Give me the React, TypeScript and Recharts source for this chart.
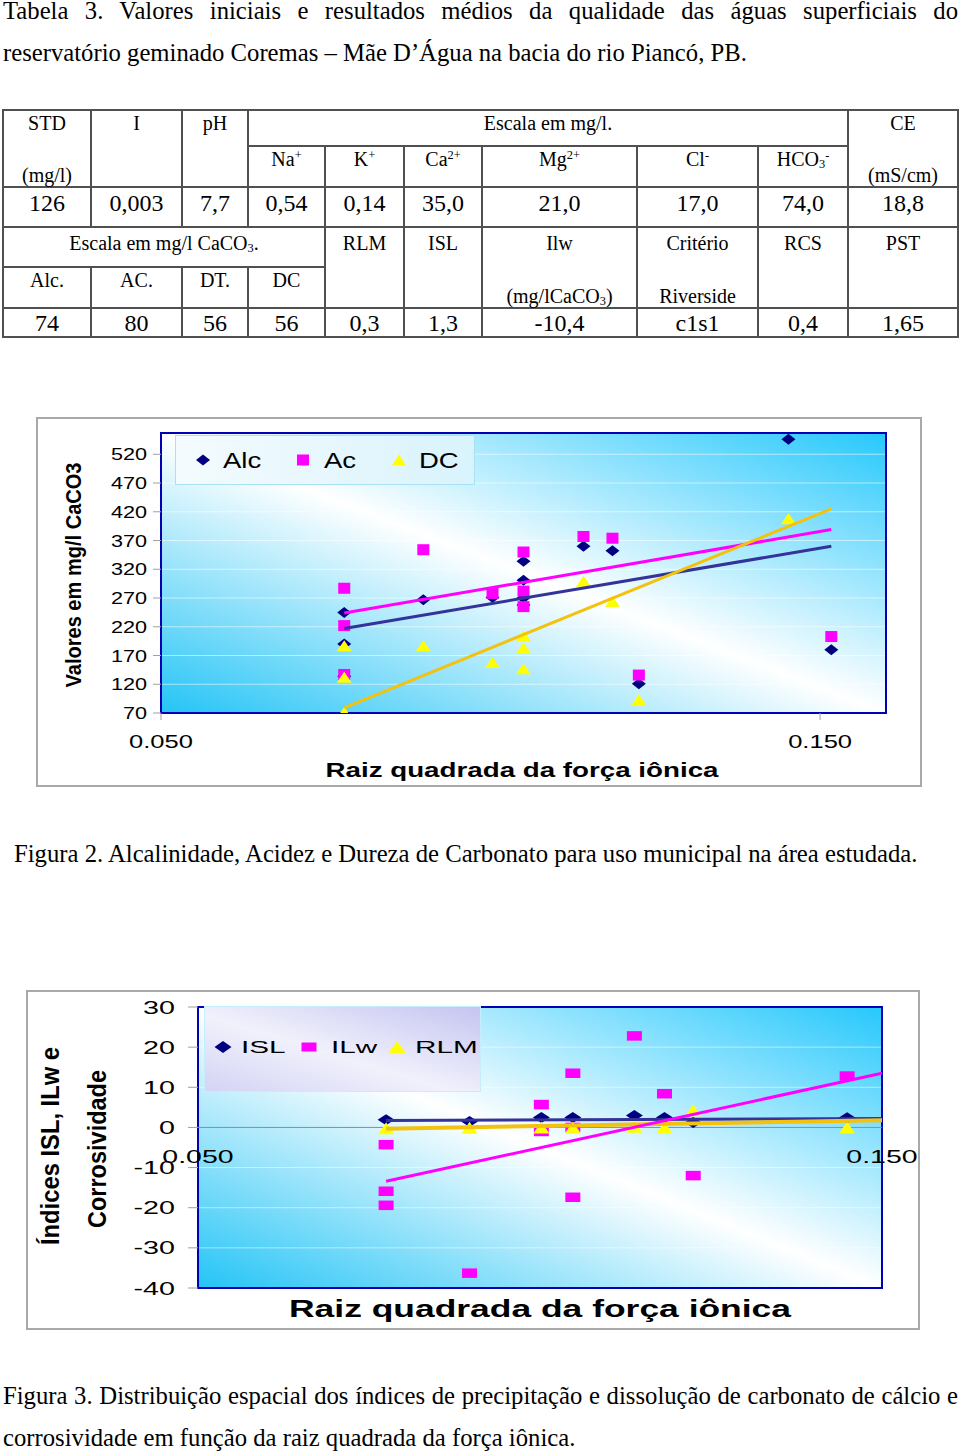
import React from "react";
import {
  CartesianGrid,
  ReferenceArea,
  ReferenceDot,
  ReferenceLine,
  Scatter,
  ScatterChart,
  XAxis,
  YAxis,
} from "recharts";

type Pt = { x: number; y: number };
const toPts = (rows: number[][]): Pt[] => rows.map(([x, y]) => ({ x, y }));

// ---- Figura 2: Alc / Ac / DC (mg/l CaCO3) vs raiz quadrada da força iônica
const alcPoints = toPts([
  [0.0778, 245], [0.0778, 190], [0.0778, 134],
  [0.0898, 267],
  [0.1003, 271],
  [0.105, 334], [0.105, 301], [0.105, 270], [0.105, 258],
  [0.1141, 360],
  [0.1185, 352],
  [0.1225, 121],
  [0.1452, 546],
  [0.1517, 180],
]);
const acPoints = toPts([
  [0.0778, 287], [0.0778, 222], [0.0778, 137],
  [0.0898, 354],
  [0.1003, 278],
  [0.105, 350], [0.105, 282], [0.105, 255],
  [0.1141, 377],
  [0.1185, 374],
  [0.1225, 136],
  [0.1517, 203],
]);
const dcPoints = toPts([
  [0.0778, 187], [0.0778, 132], [0.0778, 71],
  [0.0898, 187],
  [0.1003, 158],
  [0.105, 204], [0.105, 183], [0.105, 147],
  [0.1141, 299],
  [0.1185, 264],
  [0.1225, 93],
  [0.1452, 408],
]);
// trend line end points as drawn in the figure
const alcTrend = toPts([[0.0778, 217], [0.1517, 360]]);
const acTrend = toPts([[0.0778, 244], [0.1517, 389]]);
const dcTrend = toPts([[0.0778, 79], [0.1517, 425]]);
const fig2YTicks = [70, 120, 170, 220, 270, 320, 370, 420, 470, 520];
const fig2XTicks = [0.05, 0.15];

// ---- Figura 3: ISL / ILw / RLM
const islPoints = toPts([
  [0.0775, 1.9], [0.0897, 1.5], [0.1002, 2.5], [0.1048, 2.5],
  [0.1138, 3.0], [0.1182, 2.5], [0.1224, 1.2], [0.1449, 2.4],
]);
const ilwPoints = toPts([
  [0.0775, -4.3], [0.0775, -15.9], [0.0775, -19.4],
  [0.0897, -36.3],
  [0.1002, 5.7], [0.1002, -1.0],
  [0.1048, 13.5], [0.1048, 0.0], [0.1048, -17.4],
  [0.1138, 22.8],
  [0.1182, 8.4],
  [0.1224, -12.0],
  [0.1449, 12.8],
]);
const rlmPoints = toPts([
  [0.0775, -0.2], [0.0897, -0.1], [0.1002, 0.0], [0.1048, 0.0],
  [0.1138, 0.2], [0.1182, 0.0], [0.1224, 4.3], [0.1449, 0.0],
]);
const islTrend = toPts([[0.0775, 1.7], [0.15, 2.2]]);
const ilwTrend = toPts([[0.0775, -13.4], [0.15, 13.5]]);
const rlmTrend = toPts([[0.0775, -0.3], [0.15, 1.8]]);
const fig3YTicks = [-40, -30, -20, -10, 0, 10, 20, 30];
const fig3XLabels = [0.05, 0.15];

// ---- Tabela 3 values
const tableRow1 = ["126", "0,003", "7,7", "0,54", "0,14", "35,0", "21,0", "17,0", "74,0", "18,8"];
const tableRow2 = ["74", "80", "56", "56", "0,3", "1,3", "-10,4", "c1s1", "0,4", "1,65"];

const NAVY = "#000080";
const PINK = "#ff00ff";
const YELLOW = "#ffff00";
const TREND_NAVY = "#333399";
const TREND_GOLD = "#f2c20f";
const SANS = '"Liberation Sans", Arial, sans-serif';

type Kind = "diamond" | "square" | "triangle";

function markerPath(kind: Kind, cx: number, cy: number, w: number, h: number, fill: string) {
  if (kind === "square") {
    return <rect x={cx - w / 2} y={cy - h / 2} width={w} height={h} fill={fill} />;
  }
  if (kind === "diamond") {
    return (
      <polygon
        points={`${cx},${cy - h / 2} ${cx + w / 2},${cy} ${cx},${cy + h / 2} ${cx - w / 2},${cy}`}
        fill={fill}
      />
    );
  }
  return (
    <polygon
      points={`${cx},${cy - h / 2} ${cx + w / 2},${cy + h / 2} ${cx - w / 2},${cy + h / 2}`}
      fill={fill}
    />
  );
}

const marker = (kind: Kind, w: number, h: number, fill: string) => (p: any) => {
  if (p == null || p.cx == null || p.cy == null) return <g />;
  return markerPath(kind, p.cx, p.cy, w, h, fill);
};

const noMarker = () => <g />;

const yTick = (size: number, sx: number) => (p: any) => (
  <text
    transform={`translate(${p.x},${p.y}) scale(${sx},1)`}
    textAnchor="end"
    dominantBaseline="central"
    fontSize={size}
    fontFamily={SANS}
    fill="#000"
  >
    {p.payload.value}
  </text>
);

const xTick1 = (p: any) => (
  <text
    transform={`translate(${p.x},${p.y + 8}) scale(1.38,1)`}
    textAnchor="middle"
    dominantBaseline="central"
    fontSize={18.5}
    fontFamily={SANS}
    fill="#000"
  >
    {Number(p.payload.value).toFixed(3)}
  </text>
);

const xLabel3 = (text: string) => (p: any) => {
  const vb = p.viewBox || {};
  const cx = (vb.x || 0) + (vb.width || 0) / 2;
  const cy = (vb.y || 0) + (vb.height || 0) / 2;
  return (
    <text
      transform={`translate(${cx},${cy + 29}) scale(1.5,1)`}
      textAnchor="middle"
      dominantBaseline="central"
      fontSize={19}
      fontFamily={SANS}
      fill="#000"
    >
      {text}
    </text>
  );
};

type LegendItem = { kind: Kind; color: string; label: string; mx: number; tx: number };
const fig2Legend: LegendItem[] = [
  { kind: "diamond", color: NAVY, label: "Alc", mx: 28, tx: 48 },
  { kind: "square", color: PINK, label: "Ac", mx: 128, tx: 149 },
  { kind: "triangle", color: YELLOW, label: "DC", mx: 224, tx: 244 },
];
const fig3Legend: LegendItem[] = [
  { kind: "diamond", color: NAVY, label: "ISL", mx: 19, tx: 37 },
  { kind: "square", color: PINK, label: "ILw", mx: 105, tx: 127 },
  { kind: "triangle", color: YELLOW, label: "RLM", mx: 193, tx: 211 },
];

function LegendBox1() {
  return (
    <svg width={300} height={50} style={{ display: "block" }}>
      <defs>
        <linearGradient id="lg1" x1="0" y1="0" x2="1" y2="0">
          <stop offset="0" stopColor="#f4fbfe" />
          <stop offset="1" stopColor="#d9f3fc" />
        </linearGradient>
      </defs>
      <rect x={0.5} y={0.5} width={299} height={49} fill="url(#lg1)" stroke="#a9e2f5" />
      {fig2Legend.map((it) => (
        <g key={it.label}>
          {markerPath(it.kind, it.mx, 25, it.kind === "square" ? 12 : 14, 11, it.color)}
          <text
            transform={`translate(${it.tx},25) scale(1.25,1)`}
            dominantBaseline="central"
            fontSize={22}
            fontFamily={SANS}
            fill="#000"
          >
            {it.label}
          </text>
        </g>
      ))}
    </svg>
  );
}

function LegendBox2() {
  return (
    <svg width={277} height={86} style={{ display: "block" }}>
      <defs>
        <linearGradient id="lg2" x1="1" y1="0" x2="0" y2="1">
          <stop offset="0" stopColor="#c4c4f1" />
          <stop offset="0.55" stopColor="#f1f1fc" />
          <stop offset="1" stopColor="#d3d3f5" />
        </linearGradient>
      </defs>
      <rect x={0.5} y={0.5} width={276} height={85} fill="url(#lg2)" stroke="#c4eefc" />
      {fig3Legend.map((it) => (
        <g key={it.label}>
          {markerPath(it.kind, it.mx, 41, it.kind === "square" ? 15 : 17, it.kind === "square" ? 9 : 12, it.color)}
          <text
            transform={`translate(${it.tx},41) scale(1.8,1)`}
            dominantBaseline="central"
            fontSize={16.5}
            fontFamily={SANS}
            fill="#000"
          >
            {it.label}
          </text>
        </g>
      ))}
    </svg>
  );
}

function Figure2() {
  return (
    <div style={{ position: "absolute", left: 36, top: 417, width: 886, height: 370, background: "#fff" }}>
      <ScatterChart width={886} height={370} margin={{ top: 16, right: 36, bottom: 44, left: 65 }}>
        <defs>
          <linearGradient id="bg2" x1="0" y1="1" x2="1" y2="0">
            <stop offset="0" stopColor="#24c4f6" />
            <stop offset="0.5" stopColor="#ffffff" />
            <stop offset="1" stopColor="#26c8fc" />
          </linearGradient>
        </defs>
        <CartesianGrid vertical={false} fill="url(#bg2)" stroke="#ffffff" strokeOpacity={0.55} />
        <XAxis
          type="number"
          dataKey="x"
          domain={[0.05, 0.16]}
          ticks={fig2XTicks}
          allowDataOverflow
          height={30}
          axisLine={false}
          tickLine={{ stroke: "#a0a0a0" }}
          tickSize={7}
          tickMargin={14}
          tick={xTick1}
        />
        <YAxis
          type="number"
          dataKey="y"
          domain={[70, 557]}
          ticks={fig2YTicks}
          allowDataOverflow
          width={60}
          axisLine={false}
          tickLine={{ stroke: "#a0a0a0" }}
          tickSize={8}
          tickMargin={6}
          tick={yTick(17, 1.27)}
          interval={0}
        />
        <Scatter data={alcPoints} shape={marker("diamond", 14, 11, NAVY)} isAnimationActive={false} legendType="none" />
        <Scatter data={acPoints} shape={marker("square", 12, 11, PINK)} isAnimationActive={false} legendType="none" />
        <Scatter data={dcPoints} shape={marker("triangle", 15, 11, YELLOW)} isAnimationActive={false} legendType="none" />
        <Scatter data={alcTrend} shape={noMarker} line={{ stroke: TREND_NAVY, strokeWidth: 3 }} isAnimationActive={false} legendType="none" />
        <Scatter data={acTrend} shape={noMarker} line={{ stroke: PINK, strokeWidth: 3 }} isAnimationActive={false} legendType="none" />
        <Scatter data={dcTrend} shape={noMarker} line={{ stroke: TREND_GOLD, strokeWidth: 3 }} isAnimationActive={false} legendType="none" />
        <ReferenceArea x1={0.05} x2={0.16} y1={70} y2={557} fill="none" fillOpacity={0} stroke="#0000b4" strokeWidth={2} ifOverflow="visible" />
      </ScatterChart>
      <div style={{ position: "absolute", left: 139, top: 18 }}>
        <LegendBox1 />
      </div>
      <svg width={886} height={370} style={{ position: "absolute", left: 0, top: 0, pointerEvents: "none" }}>
        <text
          x={486}
          y={352}
          textAnchor="middle"
          dominantBaseline="central"
          fontSize={21}
          fontWeight="bold"
          fontFamily={SANS}
          textLength={393}
          lengthAdjust="spacingAndGlyphs"
        >
          Raiz quadrada da força iônica
        </text>
        <text
          transform="translate(37,158) rotate(-90)"
          textAnchor="middle"
          dominantBaseline="central"
          fontSize={22}
          fontWeight="bold"
          fontFamily={SANS}
          textLength={225}
          lengthAdjust="spacingAndGlyphs"
        >
          Valores em mg/l CaCO3
        </text>
      </svg>
      <div style={{ position: "absolute", inset: 0, border: "2px solid #a9a9a9", pointerEvents: "none" }} />
    </div>
  );
}

function Figure3() {
  return (
    <div style={{ position: "absolute", left: 26, top: 990, width: 894, height: 340, background: "#fff" }}>
      <ScatterChart width={894} height={340} margin={{ top: 17, right: 38, bottom: 42, left: 102 }}>
        <defs>
          <linearGradient id="bg3" x1="0" y1="1" x2="1" y2="0">
            <stop offset="0" stopColor="#24c4f6" />
            <stop offset="0.5" stopColor="#ffffff" />
            <stop offset="1" stopColor="#26c8fc" />
          </linearGradient>
        </defs>
        <CartesianGrid vertical={false} fill="url(#bg3)" stroke="#ffffff" strokeOpacity={0.5} />
        <XAxis type="number" dataKey="x" domain={[0.05, 0.15]} allowDataOverflow hide />
        <YAxis
          type="number"
          dataKey="y"
          domain={[-40, 30]}
          ticks={fig3YTicks}
          allowDataOverflow
          width={70}
          axisLine={false}
          tickLine={{ stroke: "#a0a0a0" }}
          tickSize={10}
          tickMargin={13}
          tick={yTick(18.5, 1.55)}
          interval={0}
        />
        <ReferenceLine y={0} stroke="#8c8c8c" strokeWidth={1} />
        <Scatter data={islPoints} shape={marker("diamond", 17, 11, NAVY)} isAnimationActive={false} legendType="none" />
        <Scatter data={ilwPoints} shape={marker("square", 15, 9.5, PINK)} isAnimationActive={false} legendType="none" />
        <Scatter data={rlmPoints} shape={marker("triangle", 16, 12, YELLOW)} isAnimationActive={false} legendType="none" />
        <Scatter data={islTrend} shape={noMarker} line={{ stroke: TREND_NAVY, strokeWidth: 3 }} isAnimationActive={false} legendType="none" />
        <Scatter data={rlmTrend} shape={noMarker} line={{ stroke: TREND_GOLD, strokeWidth: 4 }} isAnimationActive={false} legendType="none" />
        <Scatter data={ilwTrend} shape={noMarker} line={{ stroke: PINK, strokeWidth: 3 }} isAnimationActive={false} legendType="none" />
        <ReferenceArea x1={0.05} x2={0.15} y1={-40} y2={30} fill="none" fillOpacity={0} stroke="#0000b4" strokeWidth={2} ifOverflow="visible" />
        {fig3XLabels.map((v) => (
          <ReferenceDot
            key={v}
            x={v}
            y={0}
            r={0}
            fill="none"
            stroke="none"
            ifOverflow="visible"
            label={xLabel3(v.toFixed(3))}
          />
        ))}
      </ScatterChart>
      <div style={{ position: "absolute", left: 178, top: 16 }}>
        <LegendBox2 />
      </div>
      <svg width={894} height={340} style={{ position: "absolute", left: 0, top: 0, pointerEvents: "none" }}>
        <text
          x={514}
          y={319}
          textAnchor="middle"
          dominantBaseline="central"
          fontSize={23}
          fontWeight="bold"
          fontFamily={SANS}
          textLength={502}
          lengthAdjust="spacingAndGlyphs"
        >
          Raiz quadrada da força iônica
        </text>
        <text
          transform="translate(24,156) rotate(-90)"
          textAnchor="middle"
          dominantBaseline="central"
          fontSize={25}
          fontWeight="bold"
          fontFamily={SANS}
          textLength={198}
          lengthAdjust="spacingAndGlyphs"
        >
          Índices ISL, ILw e
        </text>
        <text
          transform="translate(71,159) rotate(-90)"
          textAnchor="middle"
          dominantBaseline="central"
          fontSize={25}
          fontWeight="bold"
          fontFamily={SANS}
          textLength={158}
          lengthAdjust="spacingAndGlyphs"
        >
          Corrosividade
        </text>
      </svg>
      <div style={{ position: "absolute", inset: 0, border: "2px solid #a9a9a9", pointerEvents: "none" }} />
    </div>
  );
}

// table grid
const COLS = [3, 91, 182, 248, 325, 404, 482, 637, 758, 848, 958];
const ROWS = [110, 146, 187, 227, 267, 308, 337];

type Cell = [number, number, number, number];
const cells: Cell[] = [
  [0, 1, 0, 2], [1, 2, 0, 2], [2, 3, 0, 2], [3, 9, 0, 1], [9, 10, 0, 2],
  [3, 4, 1, 2], [4, 5, 1, 2], [5, 6, 1, 2], [6, 7, 1, 2], [7, 8, 1, 2], [8, 9, 1, 2],
  ...tableRow1.map((_, i) => [i, i + 1, 2, 3] as Cell),
  [0, 4, 3, 4], [4, 5, 3, 5], [5, 6, 3, 5], [6, 7, 3, 5], [7, 8, 3, 5], [8, 9, 3, 5], [9, 10, 3, 5],
  [0, 1, 4, 5], [1, 2, 4, 5], [2, 3, 4, 5], [3, 4, 4, 5],
  ...tableRow2.map((_, i) => [i, i + 1, 5, 6] as Cell),
];

const sup = (t: string) => <sup style={{ fontSize: "0.62em", verticalAlign: "0.55em", lineHeight: 0 }}>{t}</sup>;
const sub = (t: string) => <sub style={{ fontSize: "0.62em", verticalAlign: "-0.2em", lineHeight: 0 }}>{t}</sub>;

type TText = { c0: number; c1: number; cy: number; size: number; node: React.ReactNode };
const tableTexts: TText[] = [
  { c0: 0, c1: 1, cy: 123, size: 20, node: "STD" },
  { c0: 1, c1: 2, cy: 123, size: 20, node: "I" },
  { c0: 2, c1: 3, cy: 123, size: 20, node: "pH" },
  { c0: 3, c1: 9, cy: 123, size: 20, node: "Escala em mg/l." },
  { c0: 9, c1: 10, cy: 123, size: 20, node: "CE" },
  { c0: 3, c1: 4, cy: 159, size: 20, node: <>Na{sup("+")}</> },
  { c0: 4, c1: 5, cy: 159, size: 20, node: <>K{sup("+")}</> },
  { c0: 5, c1: 6, cy: 159, size: 20, node: <>Ca{sup("2+")}</> },
  { c0: 6, c1: 7, cy: 159, size: 20, node: <>Mg{sup("2+")}</> },
  { c0: 7, c1: 8, cy: 159, size: 20, node: <>Cl{sup("-")}</> },
  { c0: 8, c1: 9, cy: 159, size: 20, node: <>HCO{sub("3")}{sup("-")}</> },
  { c0: 0, c1: 1, cy: 175, size: 20, node: "(mg/l)" },
  { c0: 9, c1: 10, cy: 175, size: 20, node: "(mS/cm)" },
  ...tableRow1.map((t, i) => ({ c0: i, c1: i + 1, cy: 203, size: 24, node: t })),
  { c0: 0, c1: 4, cy: 243, size: 20, node: <>Escala em mg/l CaCO{sub("3")}.</> },
  { c0: 4, c1: 5, cy: 243, size: 20, node: "RLM" },
  { c0: 5, c1: 6, cy: 243, size: 20, node: "ISL" },
  { c0: 6, c1: 7, cy: 243, size: 20, node: "Ilw" },
  { c0: 7, c1: 8, cy: 243, size: 20, node: "Critério" },
  { c0: 8, c1: 9, cy: 243, size: 20, node: "RCS" },
  { c0: 9, c1: 10, cy: 243, size: 20, node: "PST" },
  { c0: 0, c1: 1, cy: 280, size: 20, node: "Alc." },
  { c0: 1, c1: 2, cy: 280, size: 20, node: "AC." },
  { c0: 2, c1: 3, cy: 280, size: 20, node: "DT." },
  { c0: 3, c1: 4, cy: 280, size: 20, node: "DC" },
  { c0: 6, c1: 7, cy: 296, size: 20, node: <>(mg/lCaCO{sub("3")})</> },
  { c0: 7, c1: 8, cy: 296, size: 20, node: "Riverside" },
  ...tableRow2.map((t, i) => ({ c0: i, c1: i + 1, cy: 323, size: 24, node: t })),
];

function Table3() {
  return (
    <>
      {cells.map(([c0, c1, r0, r1], i) => (
        <div
          key={"c" + i}
          style={{
            position: "absolute",
            left: COLS[c0] - 1,
            top: ROWS[r0] - 1,
            width: COLS[c1] - COLS[c0] + 2,
            height: ROWS[r1] - ROWS[r0] + 2,
            border: "2px solid #505050",
            boxSizing: "border-box",
          }}
        />
      ))}
      {tableTexts.map((t, i) => (
        <div
          key={"t" + i}
          style={{
            position: "absolute",
            left: COLS[t.c0],
            width: COLS[t.c1] - COLS[t.c0],
            top: t.cy - 15,
            height: 30,
            lineHeight: "30px",
            fontSize: t.size,
            textAlign: "center",
            whiteSpace: "nowrap",
          }}
        >
          {t.node}
        </div>
      ))}
    </>
  );
}

const para: React.CSSProperties = {
  position: "absolute",
  left: 3,
  width: 955,
  fontSize: 24.7,
  lineHeight: "42px",
  textAlign: "justify",
  margin: 0,
};

export default function App() {
  return (
    <div
      style={{
        position: "absolute",
        left: 0,
        top: 0,
        width: 960,
        height: 1453,
        overflow: "hidden",
        background: "#fff",
        color: "#000",
        fontFamily: '"Liberation Serif", "Times New Roman", serif',
      }}
    >
      <p style={{ ...para, top: -10 }}>
        Tabela 3. Valores iniciais e resultados médios da qualidade das águas superficiais do
        reservatório geminado Coremas – Mãe D’Água na bacia do rio Piancó, PB.
      </p>
      <Table3 />
      <Figure2 />
      <p style={{ ...para, left: 14, width: 946, top: 833, textAlign: "left", whiteSpace: "nowrap" }}>
        Figura 2. Alcalinidade, Acidez e Dureza de Carbonato para uso municipal na área estudada.
      </p>
      <Figure3 />
      <p style={{ ...para, top: 1375 }}>
        Figura 3. Distribuição espacial dos índices de precipitação e dissolução de carbonato de cálcio e
        corrosividade em função da raiz quadrada da força iônica.
      </p>
    </div>
  );
}
